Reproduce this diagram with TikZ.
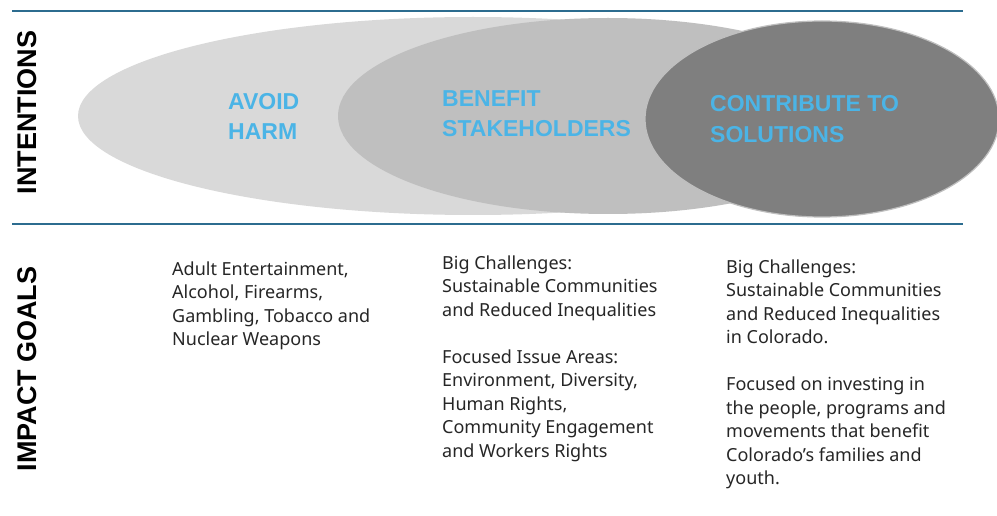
\documentclass[tikz,border=0pt]{standalone}
\usepackage{fontspec}
\setmainfont{Noto Sans}
\newfontfamily\headfont{Liberation Sans}
\usetikzlibrary{shapes.geometric}
\definecolor{rulecol}{HTML}{2C6C8F}
\definecolor{headblue}{HTML}{4BB4E6}
\definecolor{gA}{HTML}{D9D9D9}
\definecolor{gB}{HTML}{BFBFBF}
\definecolor{gC}{HTML}{7F7F7F}
\definecolor{bodytext}{HTML}{262626}
\begin{document}
\begin{tikzpicture}[x=1pt,y=1pt,
  rulestyle/.style={draw=rulecol,line width=2.2pt},
  blob/.style={ellipse,inner sep=0pt},
  vlabel/.style={rotate=90,font=\headfont\fontsize{27}{30}\selectfont\bfseries,text=black,inner sep=0pt},
  head/.style={anchor=north west,align=left,inner sep=0pt,text=headblue,font=\headfont\fontsize{23}{30.5}\selectfont\bfseries},
  body/.style={anchor=north west,align=left,inner sep=0pt,text=bodytext,font=\fontsize{18}{23.5}\selectfont}]
\useasboundingbox (0,0) rectangle (997,-516);
\fill[white] (0,0) rectangle (997,-516);
% rules
\coordinate (t1) at (12,-11);
\coordinate (t2) at (963,-11);
\coordinate (b1) at (12,-224);
\coordinate (b2) at (963,-224);
\draw[rulestyle] (t1) -- (t2);
\draw[rulestyle] (b1) -- (b2);
% ellipses
\node[blob,fill=gA,minimum width=790pt,minimum height=198pt] (e1) at (473,-116) {};
\node[blob,fill=gB,minimum width=540pt,minimum height=196pt] (e2) at (608,-116) {};
\node[blob,fill=gC,draw=gB,line width=1.2pt,minimum width=354pt,minimum height=196pt] (e3) at (822,-119) {};
% headings
\node[head] (h1) at (228,-93) {AVOID\\HARM};
\node[head] (h2) at (442,-90) {BENEFIT\\STAKEHOLDERS};
\node[head] (h3) at (710,-95.5) {CONTRIBUTE TO\\SOLUTIONS};
% vertical labels
\node[vlabel] (int) at (27,-112.5) {INTENTIONS};
\node[vlabel] (imp) at (27,-369) {IMPACT GOALS};
% body texts
\node[body] (c1) at (172,-261.5) {Adult Entertainment,\\Alcohol, Firearms,\\Gambling, Tobacco and\\Nuclear Weapons};
\node[body] (c2) at (442,-255.5) {Big Challenges:\\Sustainable Communities\\and Reduced Inequalities\\[23.5pt]Focused Issue Areas:\\Environment, Diversity,\\Human Rights,\\Community Engagement\\and Workers Rights};
\node[body] (c3) at (726,-259.5) {Big Challenges:\\Sustainable Communities\\and Reduced Inequalities\\in Colorado.\\[23.5pt]Focused on investing in\\the people, programs and\\movements that benefit\\Colorado’s families and\\youth.};
\end{tikzpicture}
\end{document}
